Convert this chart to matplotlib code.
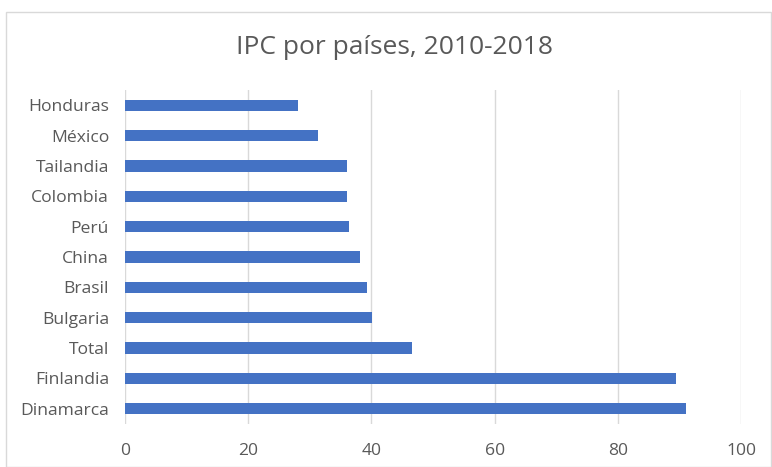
import matplotlib
matplotlib.use("Agg")
import matplotlib.pyplot as plt
from matplotlib.patches import Rectangle

categories = ["Dinamarca", "Finlandia", "Total", "Bulgaria", "Brasil", "China",
              "Perú", "Colombia", "Tailandia", "México", "Honduras"]
values = [91.1, 89.5, 46.6, 40.1, 39.3, 38.1, 36.3, 36.1, 36.1, 31.4, 28.1]
xticks = [0, 20, 40, 60, 80, 100]
title = "IPC por países, 2010-2018"

plt.rcParams['font.family'] = ['Open Sans', 'DejaVu Sans']

W, H = 772, 467
fig = plt.figure(figsize=(W / 100, H / 100), dpi=100)
# chart border
fig.patches.append(Rectangle((6 / W, 0), 1 - 6 / W - 1 / W, 1 - 12 / H, transform=fig.transFigure,
                             fill=False, edgecolor="#d9d9d9", linewidth=1))

ax = fig.add_axes([125 / W, 1 - 424 / H, (741 - 125) / W, (424 - 90) / H])
ax.barh(range(len(categories)), values, height=0.37, color="#4472C4", zorder=3)
ax.set_ylim(-0.5, len(categories) - 0.5)
ax.set_xlim(0, 100)
ax.set_xticks(xticks)
ax.set_xticklabels([str(t) for t in xticks])
ax.set_yticks(range(len(categories)))
ax.set_yticklabels(categories)
ax.grid(axis="x", color="#d9d9d9", linewidth=1, zorder=0)
for s in ax.spines.values():
    s.set_visible(False)
ax.tick_params(axis="both", length=0, labelsize=12.6, colors="#595959")
ax.tick_params(axis="x", pad=13.5)
ax.tick_params(axis="y", pad=11.5)
fig.text(0.5 * (237 + 552) / W, 1 - 47 / H, title, ha="center", va="center",
         fontsize=19, color="#595959")

fig.savefig("out.png", dpi=100)
